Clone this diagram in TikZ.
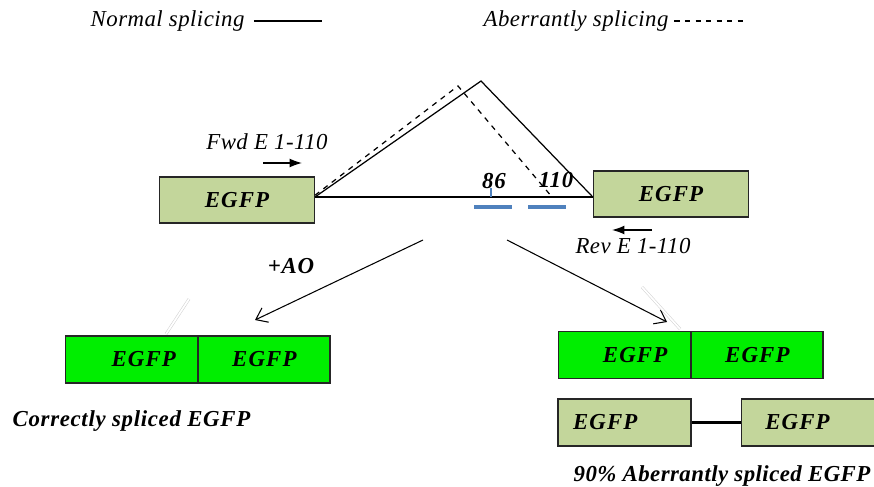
\documentclass[tikz,border=0pt]{standalone}
\usepackage{fontspec}
\setmainfont{Liberation Serif}
\usepackage{tikz}
\usetikzlibrary{arrows.meta}
\usetikzlibrary{positioning}
\definecolor{exoncolor}{HTML}{C3D69B}
\definecolor{splicedcolor}{HTML}{00EE00}
\definecolor{aocolor}{HTML}{4F81BD}
\tikzset{
  lbl/.style={inner sep=0pt,font=\fontsize{13}{15}\selectfont\itshape\addfontfeature{LetterSpace=2}},
  blbl/.style={inner sep=0pt,font=\fontsize{13}{15}\selectfont\bfseries\itshape\addfontfeature{LetterSpace=3}},
  exon/.style={draw=black!85,line width=0.8pt,fill=exoncolor,minimum width=3.1cm,minimum height=0.92cm,inner sep=0pt,font=\fontsize{13}{15}\selectfont\bfseries\itshape\addfontfeature{LetterSpace=5}},
  spliced/.style={exon,fill=splicedcolor,minimum width=2.63cm,minimum height=0.94cm},
  aberr/.style={exon,minimum width=2.66cm,minimum height=0.94cm},
  primer/.style={line width=0.7pt,-{Latex[length=7pt,width=5pt]}},
  result/.style={line width=0.6pt,-{Straight Barb[length=6pt,width=9pt]}}
}
\begin{document}
\begin{tikzpicture}[x=0.02cm,y=-0.02cm,thick]
\useasboundingbox (0,0) rectangle (874,486);
%% legend
\node[lbl,anchor=west] (normal) at (90,21) {Normal splicing};
\node[lbl,anchor=west] (aberrant) at (483,21) {Aberrantly splicing};
\draw[line width=0.6pt] ([xshift=5pt]normal.east) -- ++(68,0);
\draw[line width=0.6pt,dashed] ([xshift=3pt]aberrant.east) -- ++(73,0);
%% minigene
\node[exon] (exA) at (237,200) {EGFP};
\node[exon] (exB) at (671,194) {EGFP};
\coordinate (junc) at (315,197);
\coordinate (top) at (481,81);
\coordinate (dtop) at (458,86);
\coordinate (dend) at (552,197);
\draw[line width=1.5pt] (junc) -- (junc -| exB.west);
\draw[line width=0.7pt] (junc) -- (top) -- (junc -| exB.west);
\draw[line width=0.7pt,dashed] ([yshift=1pt]junc) -- (dtop) -- (dend);
%% primers
\node[lbl] (fwd) at (267,142) {Fwd E 1-110};
\coordinate (fwd1) at (263,163);
\coordinate (fwd2) at (302,163);
\draw[primer] (fwd1) -- (fwd2);
\node[lbl] (rev) at (633,246) {Rev E 1-110};
\coordinate (rev1) at (652,230);
\coordinate (rev2) at (612,230);
\draw[primer] (rev1) -- (rev2);
%% AO target sites
\node[blbl] (n86) at (494,181) {86};
\node[blbl] (n110) at (556,180) {110};
\coordinate (tick) at (491,197);
\draw[aocolor,line width=0.7pt] (tick) -- ++(0,-9);
\foreach \a/\b in {474/512, 528/566}
  \draw[aocolor,line width=2pt] (\a,207) -- (\b,207);
%% products
\node[blbl] (ao) at (291,266) {+AO};
\coordinate (sL) at (423,240);
\coordinate (eL) at (255,320);
\coordinate (sR) at (507,240);
\coordinate (eR) at (667,322);
\draw[result] (sL) -- (eL);
\draw[result] (sR) -- (eR);
\draw[black!18,line width=0.3pt,double,double distance=1pt] (189,299) -- (166,334);
\draw[black!18,line width=0.3pt,double,double distance=1pt] (642,287) -- (680,329);
\node[spliced] (cA) at (131.5,359.5) {\hspace*{14pt}EGFP};
\node[spliced,right=0pt of cA] (cB) {EGFP};
\node[spliced] (aA) at (624.5,355) {\hspace*{12pt}EGFP};
\node[spliced,right=0pt of aA] (aB) {EGFP};
\node[aberr] (bA) at (624.5,422.5) {EGFP\hspace*{22pt}};
\node[aberr] (bB) at (808,422.5) {EGFP\hspace*{12pt}};
\draw[line width=1.5pt] (bA.east) -- (bB.west);
\node[blbl,anchor=west] (correct) at (12,421) {Correctly spliced EGFP};
\node[blbl,anchor=base west,font=\fontsize{13}{15}\selectfont\bfseries\itshape\addfontfeature{LetterSpace=2}] (skipped) at (573,481) {90\% Aberrantly spliced EGFP};
\end{tikzpicture}
\end{document}
